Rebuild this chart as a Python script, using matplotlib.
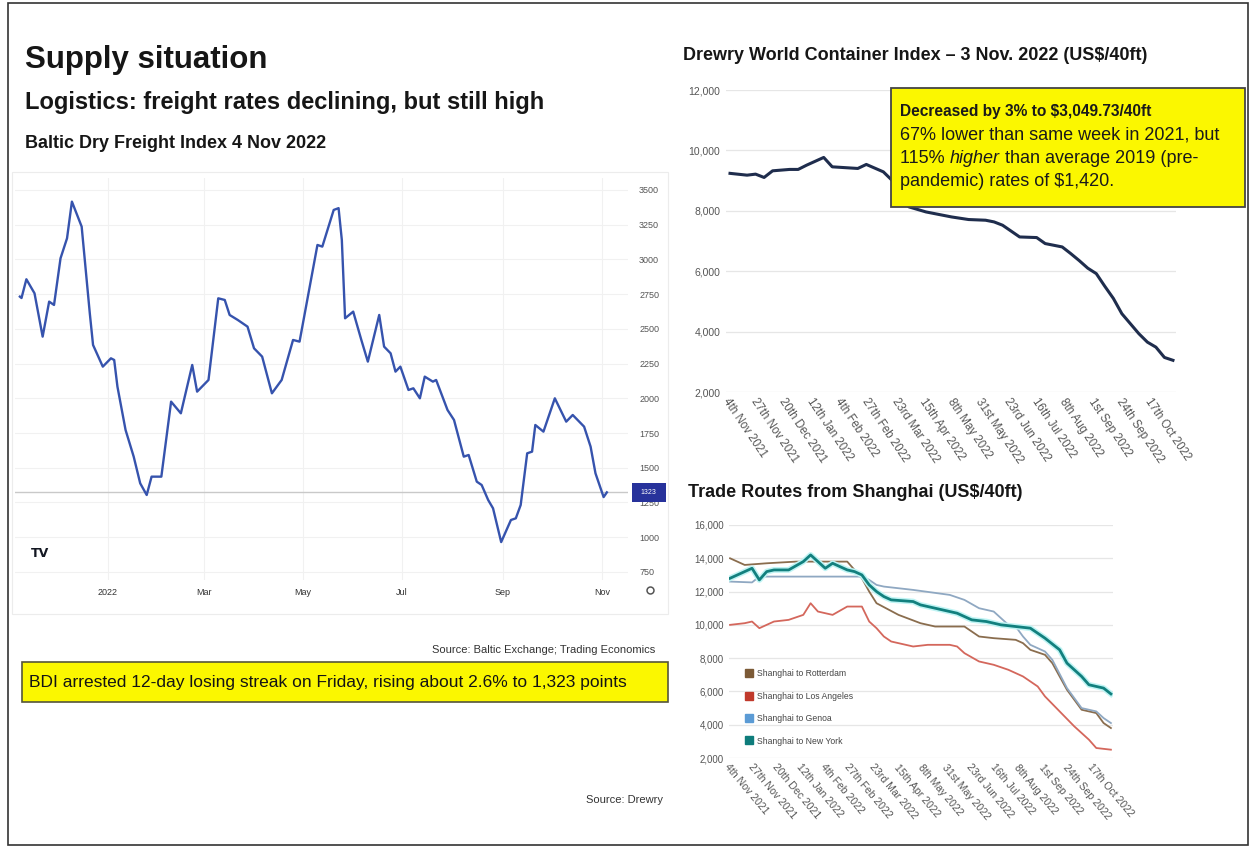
import numpy as np
import matplotlib
matplotlib.use("Agg")
import matplotlib.pyplot as plt
import matplotlib.dates as mdates
import matplotlib.patheffects as pe
from matplotlib import font_manager
from matplotlib.lines import Line2D
from matplotlib.patches import Rectangle
from matplotlib.ticker import FuncFormatter

W, H = 1251, 848

installed = {f.name for f in font_manager.fontManager.ttflist}
SANS = "Liberation Sans"
NARROW = "Liberation Sans Narrow" if "Liberation Sans Narrow" in installed else SANS
plt.rcParams["font.family"] = [SANS, "DejaVu Sans"]

# Baltic Dry Index closes
bdi_dates = ["2021-11-08", "2021-11-09", "2021-11-12", "2021-11-17", "2021-11-22",
             "2021-11-26", "2021-11-29", "2021-12-03", "2021-12-07", "2021-12-10",
             "2021-12-16", "2021-12-21", "2021-12-23", "2021-12-29", "2022-01-03",
             "2022-01-05", "2022-01-07", "2022-01-12", "2022-01-17", "2022-01-21",
             "2022-01-25", "2022-01-28", "2022-02-03", "2022-02-09", "2022-02-15",
             "2022-02-22", "2022-02-25", "2022-03-04", "2022-03-10", "2022-03-14",
             "2022-03-17", "2022-03-22", "2022-03-28", "2022-04-01", "2022-04-06",
             "2022-04-12", "2022-04-18", "2022-04-25", "2022-04-29", "2022-05-10",
             "2022-05-13", "2022-05-20", "2022-05-23", "2022-05-25", "2022-05-27",
             "2022-06-01", "2022-06-06", "2022-06-10", "2022-06-17", "2022-06-20",
             "2022-06-24", "2022-06-27", "2022-06-30", "2022-07-05", "2022-07-08",
             "2022-07-12", "2022-07-15", "2022-07-20", "2022-07-22", "2022-07-29",
             "2022-08-02", "2022-08-08", "2022-08-11", "2022-08-16", "2022-08-19",
             "2022-08-23", "2022-08-26", "2022-08-31", "2022-09-06", "2022-09-09",
             "2022-09-12", "2022-09-16", "2022-09-19", "2022-09-21", "2022-09-26",
             "2022-10-03", "2022-10-06", "2022-10-10", "2022-10-14", "2022-10-21",
             "2022-10-25", "2022-10-28", "2022-11-02", "2022-11-04"]
bdi_values = [2732, 2722, 2857, 2756, 2444, 2696, 2672, 3008, 3152, 3416,
              3236, 2612, 2384, 2228, 2288, 2276, 2084, 1772, 1580, 1388,
              1304, 1436, 1436, 1976, 1892, 2240, 2048, 2132, 2720, 2708,
              2600, 2564, 2516, 2360, 2300, 2036, 2132, 2420, 2408, 3104,
              3092, 3356, 3369, 3140, 2576, 2624, 2420, 2264, 2600, 2372,
              2324, 2192, 2228, 2060, 2072, 2000, 2156, 2120, 2132, 1916,
              1844, 1580, 1592, 1400, 1376, 1268, 1208, 965, 1124, 1136,
              1232, 1604, 1616, 1808, 1760, 2000, 1928, 1832, 1880, 1796,
              1652, 1460, 1289, 1323]
bdi_last = 1323

# Drewry weekly series, counted in weeks from the first Thursday
week_zero = "2021-11-04"
wci_weeks = [0, 2, 3, 4, 5, 7, 8, 9, 11, 12, 15, 16, 18, 19, 20, 21, 23, 26, 28, 30,
             31, 32, 34, 36, 37, 39, 40, 41, 42, 43, 44, 45, 46, 48, 49, 50, 51, 52]
wci_values = [9240, 9180, 9214, 9104, 9324, 9370, 9370, 9512, 9767, 9456, 9402, 9535,
              9290, 9015, 8600, 8130, 7963, 7797, 7711, 7688, 7632, 7522, 7134, 7114,
              6915, 6803, 6583, 6350, 6100, 5920, 5500, 5100, 4593, 3930, 3651, 3485,
              3144, 3049.73]

route_names = ["Shanghai to Rotterdam", "Shanghai to Los Angeles",
               "Shanghai to Genoa", "Shanghai to New York"]
rotterdam_weeks = [0, 2, 5, 9, 12, 16, 17, 18, 19, 20, 23, 26, 28, 32, 33, 34, 36,
                   39, 40, 41, 43, 44, 46, 48, 50, 51, 52]
rotterdam_values = [14000, 13600, 13700, 13800, 13800, 13800, 13300, 12800, 12000,
                    11300, 10600, 10100, 9900, 9900, 9600, 9300, 9200, 9100, 8900,
                    8500, 8200, 7700, 6100, 4900, 4700, 4100, 3800]
la_weeks = [0, 2, 3, 4, 6, 8, 10, 11, 12, 14, 16, 18, 19, 20, 21, 22, 23, 25, 27,
            30, 31, 32, 34, 36, 38, 40, 42, 43, 45, 47, 49, 50, 52]
la_values = [10000, 10100, 10200, 9800, 10200, 10300, 10600, 11300, 10800, 10600,
             11100, 11100, 10200, 9800, 9300, 9000, 8900, 8700, 8800, 8800, 8700,
             8300, 7800, 7600, 7300, 6900, 6300, 5700, 4800, 3900, 3100, 2600, 2500]
genoa_weeks = [0, 3, 4, 8, 12, 16, 18, 19, 20, 21, 25, 30, 32, 34, 36, 38, 39, 40,
               41, 43, 44, 46, 48, 50, 51, 52]
genoa_values = [12600, 12550, 12900, 12900, 12900, 12900, 12900, 12700, 12400, 12300,
                12100, 11800, 11500, 11000, 10800, 10000, 9900, 9300, 8800, 8400,
                7900, 6200, 5000, 4800, 4400, 4100]
ny_weeks = [0, 3, 4, 5, 6, 8, 10, 11, 13, 14, 16, 17, 18, 19, 20, 21, 22, 25, 26,
            28, 31, 33, 35, 37, 39, 41, 43, 45, 46, 47, 48, 49, 51, 52]
ny_values = [12800, 13400, 12700, 13200, 13300, 13300, 13800, 14200, 13400, 13700,
             13300, 13200, 13000, 12400, 12000, 11700, 11500, 11400, 11200, 11000,
             10700, 10300, 10200, 10000, 9900, 9800, 9200, 8500, 7700, 7300, 6900,
             6400, 6200, 5850]

drewry_ticks = ["2021-11-04", "2021-11-27", "2021-12-20", "2022-01-12", "2022-02-04",
                "2022-02-27", "2022-03-23", "2022-04-15", "2022-05-08", "2022-05-31",
                "2022-06-23", "2022-07-16", "2022-08-08", "2022-09-01", "2022-09-24",
                "2022-10-17"]

line_colors = ["#8a6d4e", "#d4675c", "#8fa8c2", "#12807e"]
legend_colors = ["#7b5a36", "#c0392b", "#5b9bd5", "#0e7c7b"]
YELLOW = "#fbf700"


def rect(x0, y0, x1, y1):
    return [x0 / W, 1 - y1 / H, (x1 - x0) / W, (y1 - y0) / H]


def fx(x):
    return x / W


def fy(y):
    return 1 - y / H


def week_dates(weeks):
    return np.datetime64(week_zero) + 7 * np.array(weeks)


def ordinal(d):
    n = d.day
    suf = "th" if 10 < n < 14 else {1: "st", 2: "nd", 3: "rd"}.get(n % 10, "th")
    return f"{n}{suf} {d:%b %Y}"


def fig_box(x0, y0, x1, y1, **kw):
    fig.patches.append(Rectangle((fx(x0), fy(y1)), (x1 - x0) / W, (y1 - y0) / H,
                                 transform=fig.transFigure, **kw))


def date_axis(ax, size, ysize, rot):
    pos = mdates.date2num(np.array(drewry_ticks, dtype="datetime64[D]"))
    labels = [ordinal(mdates.num2date(p)) for p in pos]
    ax.set_xticks(pos, labels, rotation=rot, ha="left", va="top",
                  rotation_mode="anchor", fontsize=size, color="#555")
    ax.tick_params(axis="x", length=0, pad=3)
    ax.tick_params(axis="y", length=0, pad=4, labelsize=ysize, labelcolor="#555")
    ax.yaxis.set_major_formatter(FuncFormatter(lambda v, p: f"{v:,.0f}"))
    ax.grid(axis="y", color="#e6e6e6", lw=0.9)
    ax.set_axisbelow(True)
    for s in ax.spines.values():
        s.set_visible(False)


fig = plt.figure(figsize=(W / 100, H / 100), dpi=100)
fig.patch.set_facecolor("white")

# headings
fig.text(fx(25), fy(60), "Supply situation", fontsize=22.5, weight="bold",
         va="center", color="#161616")
fig.text(fx(25), fy(103), "Logistics: freight rates declining, but still high",
         fontsize=17, weight="bold", va="center", color="#161616")
fig.text(fx(25), fy(143), "Baltic Dry Freight Index 4 Nov 2022", fontsize=13,
         weight="bold", va="center", color="#161616")

# ---- Baltic Dry Index panel ----
fig_box(12, 172, 668, 614, fill=False, ec="#ececec", lw=0.8)
ax1 = fig.add_axes(rect(15, 178, 628, 580))
ax1.plot(np.array(bdi_dates, dtype="datetime64[D]"), bdi_values,
         color="#3653ad", lw=1.7, zorder=3)
ax1.axhline(bdi_last, color="#c9c9c9", lw=1, zorder=2)
ax1.set_xlim(np.datetime64("2021-11-05"), np.datetime64("2022-11-17"))
ax1.set_ylim(692, 3586)
ax1.set_yticks(np.arange(750, 3501, 250))
ax1.yaxis.tick_right()
ax1.tick_params(axis="y", length=0, pad=8, labelsize=6.5, labelcolor="#555")
ax1.xaxis.set_major_locator(mdates.MonthLocator(bymonth=[1, 3, 5, 7, 9, 11]))
ax1.xaxis.set_major_formatter(FuncFormatter(
    lambda v, p: mdates.num2date(v).strftime("%Y" if mdates.num2date(v).month == 1 else "%b")))
ax1.tick_params(axis="x", length=0, pad=6, labelsize=6.5, labelcolor="#333")
for lab in ax1.get_xticklabels() + ax1.get_yticklabels():
    lab.set_family([NARROW, "DejaVu Sans"])
ax1.grid(color="#f1f1f1", lw=0.8)
ax1.set_axisbelow(True)
for s in ax1.spines.values():
    s.set_visible(False)

# last price tag on the right scale
ax1.add_patch(Rectangle((1.0065, bdi_last - 68), 0.055, 137,
                        transform=ax1.get_yaxis_transform(), fc="#27329b",
                        ec="none", clip_on=False, zorder=5))
ax1.text(1.034, bdi_last, str(bdi_last), transform=ax1.get_yaxis_transform(),
         ha="center", va="center", fontsize=5, color="white",
         family=[NARROW, "DejaVu Sans"], zorder=6, clip_on=False)
ax1.plot([1.036], [-0.026], transform=ax1.transAxes, marker="o", ms=5,
         mfc="white", mec="#555", mew=1.1, clip_on=False)
ax1.text(0.04, 0.067, "TV", transform=ax1.transAxes, weight="bold", fontsize=9,
         family="DejaVu Sans", color="#131722", ha="center", va="center")

fig.text(fx(655), fy(650), "Source: Baltic Exchange; Trading Economics",
         ha="right", va="center", fontsize=8, color="#333")
fig_box(22, 662, 668, 702, fc=YELLOW, ec="#55553a", lw=1.2)
fig.text(fx(29), fy(682),
         "BDI arrested 12-day losing streak on Friday, rising about 2.6% to 1,323 points",
         va="center", fontsize=12.5, color="#141414")

# ---- Drewry World Container Index ----
t0 = mdates.date2num(np.datetime64(week_zero))
fig.text(fx(683), fy(55), "Drewry World Container Index \u2013 3 Nov. 2022 (US$/40ft)",
         fontsize=13, weight="bold", va="center", color="#161616")
ax2 = fig.add_axes(rect(726, 90, 1176, 392))
ax2.plot(week_dates(wci_weeks), wci_values, color="#1f2d4d", lw=2.2, zorder=3)
ax2.set_xlim(t0 - 3.3, t0 + 366.5)
ax2.set_ylim(2000, 12000)
ax2.set_yticks(np.arange(2000, 12001, 2000))
date_axis(ax2, 8.3, 7.5, -56)

fig_box(891, 88, 1245, 207, fc=YELLOW, ec="#444", lw=1.3)
renderer = fig.canvas.get_renderer()
box_lines = [
    [("Decreased by 3% to $3,049.73/40ft", "normal", "bold", NARROW)],
    [("67% lower than same week in 2021, but", "normal", "normal", SANS)],
    [("115% ", "normal", "normal", SANS), ("higher", "italic", "normal", SANS),
     (" than average 2019 (pre-", "normal", "normal", SANS)],
    [("pandemic) rates of $1,420.", "normal", "normal", SANS)],
]
for i, runs in enumerate(box_lines):
    x = 900
    for s, style, weight, fam in runs:
        size = 14 if fam != SANS else (11.2 if weight == "bold" else 13)
        t = fig.text(fx(x), fy(111.7 + 23.3 * i), s, fontsize=size, style=style,
                     weight=weight, family=[fam, "DejaVu Sans"], va="center",
                     color="#1a1a1a")
        x = t.get_window_extent(renderer=renderer).x1

# ---- Trade routes from Shanghai ----
fig.text(fx(688), fy(492), "Trade Routes from Shanghai (US$/40ft)", fontsize=13,
         weight="bold", va="center", color="#161616")
ax3 = fig.add_axes(rect(729, 525, 1113, 758))
route_weeks = [rotterdam_weeks, la_weeks, genoa_weeks, ny_weeks]
route_values = [rotterdam_values, la_values, genoa_values, ny_values]
for i, (wk, vals) in enumerate(zip(route_weeks, route_values)):
    if i == 3:
        ax3.plot(week_dates(wk), vals, color=line_colors[i], lw=2, zorder=4,
                 path_effects=[pe.Stroke(linewidth=4.2, foreground="#bff4f4"), pe.Normal()])
    else:
        ax3.plot(week_dates(wk), vals, color=line_colors[i], lw=1.3, zorder=3)
ax3.set_xlim(t0 - 1, t0 + 366)
ax3.set_ylim(2000, 16000)
ax3.set_yticks(np.arange(2000, 16001, 2000))
date_axis(ax3, 7.6, 7, -50)
handles = [Line2D([], [], marker="s", ls="none", ms=6, mfc=c, mec=c) for c in legend_colors]
ax3.legend(handles, route_names, loc="upper left", bbox_to_anchor=(0.044, 0.38),
           frameon=False, fontsize=6.2, labelcolor="#444", handlelength=0.7,
           handletextpad=0.6, labelspacing=1.55, borderpad=0, borderaxespad=0)

fig.text(fx(663), fy(800), "Source: Drewry", ha="right", va="center",
         fontsize=8, color="#333")

# slide frame
fig_box(8, 3, 1248, 845, fill=False, ec="#333", lw=1.2)

fig.savefig("out.png", dpi=100, facecolor="white")
